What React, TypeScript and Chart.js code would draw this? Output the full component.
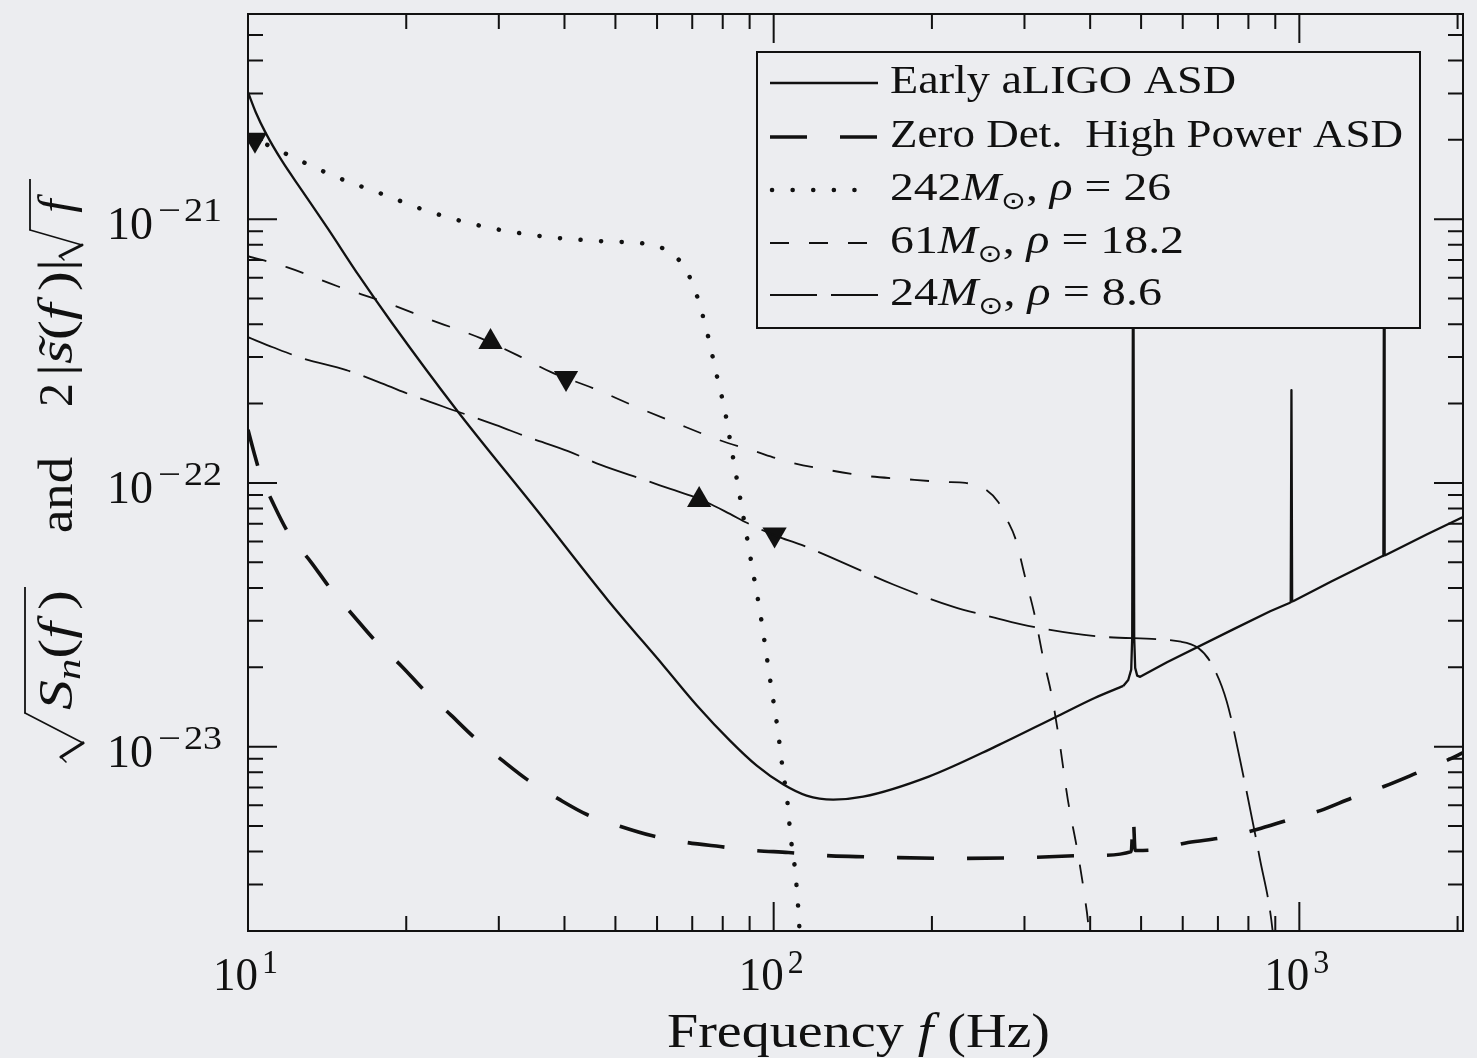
import React, { useEffect, useRef } from 'react';
import { Chart, registerables } from 'chart.js';

Chart.register(...registerables);

const W = 1477;
const H = 1058;
const BG = 'rgb(236,237,240)';
const INK = '#111111';
const SERIF = '"Liberation Serif", "Times New Roman", "DejaVu Serif", serif';
const SANS = '"DejaVu Sans", "Noto Sans", sans-serif';

// ---------------- data ----------------
const asdFreq = [10, 10.35, 10.81, 11.59, 12.65, 14.17, 16.28, 18.79, 24.94, 35.64, 48.33, 61.95, 71.52, 82.58, 92.87, 104.4, 115.5, 129.8, 148.0, 197.2, 264.0, 342.7, 407.9, 462.4, 472.6, 478.8, 480.9, 483, 485.1, 487.2, 491.5, 498.0, 560, 750, 880, 955, 963, 966, 969, 975, 1150, 1440, 1445, 1449, 1453, 1460, 1750, 2048];
const asdValue = [3.03e-21, 2.54e-21, 2.12e-21, 1.67e-21, 1.29e-21, 9.25e-22, 6.08e-22, 4.04e-22, 1.89e-22, 7.77e-23, 3.6e-23, 2.01e-23, 1.43e-23, 1.054e-23, 8.47e-24, 7.18e-24, 6.52e-24, 6.3e-24, 6.46e-24, 7.7e-24, 1.0e-23, 1.29e-23, 1.53e-23, 1.7e-23, 1.79e-23, 1.96e-23, 2.6e-23, 2.0e-21, 2.6e-23, 1.99e-23, 1.86e-23, 1.84e-23, 2.09e-23, 2.79e-23, 3.26e-23, 3.5e-23, 3.53e-23, 2.25e-22, 3.55e-23, 3.57e-23, 4.23e-23, 5.28e-23, 5.29e-23, 1.0e-21, 5.31e-23, 5.33e-23, 6.39e-23, 7.43e-23];
// above this frequency the ASD is drawn with straight segments (narrow lines)
const asdLineRegionStart = 462.4;

const zdhpFreq = [10, 10.26, 10.54, 11.25, 12.0, 13.21, 14.41, 15.93, 17.53, 19.64, 21.61, 24.3, 26.86, 30.34, 33.98, 38.89, 44.12, 51.17, 58.55, 68.48, 79.07, 92.06, 106.7, 124.3, 143.5, 168.6, 226.6, 304.8, 407.9, 479, 483, 487, 534.2, 614.2, 715.1, 829.5, 957.4, 1096, 1265, 1448, 1679, 1921, 2048];
const zdhpValue = [1.59e-22, 1.31e-22, 1.09e-22, 8.11e-23, 6.35e-23, 4.98e-23, 3.93e-23, 3.11e-23, 2.5e-23, 2.01e-23, 1.64e-23, 1.32e-23, 1.09e-23, 8.93e-24, 7.5e-24, 6.35e-24, 5.53e-24, 4.98e-24, 4.6e-24, 4.33e-24, 4.18e-24, 4.04e-24, 3.97e-24, 3.87e-24, 3.83e-24, 3.8e-24, 3.77e-24, 3.8e-24, 3.87e-24, 4.0e-24, 5.43e-24, 4.04e-24, 4.07e-24, 4.33e-24, 4.52e-24, 4.85e-24, 5.29e-24, 5.72e-24, 6.41e-24, 7.06e-24, 7.97e-24, 8.93e-24, 9.49e-24];

const m242Freq = [10, 10.91, 12.38, 14.8, 17.92, 22.08, 28.43, 36.27, 47.09, 56.07, 60.89, 65.56, 68.78, 71.2, 74.7, 77.68, 80.79, 83.29, 85.87, 88.53, 91.26, 94.09, 96.58, 99.13, 101.8, 104.0, 106.3, 107.7, 109.6, 111.0, 112.0, 114.0];
const m242Value = [2.04e-21, 1.91e-21, 1.69e-21, 1.44e-21, 1.25e-21, 1.07e-21, 9.33e-22, 8.62e-22, 8.25e-22, 8.11e-22, 7.83e-22, 7.12e-22, 6.19e-22, 5.24e-22, 3.73e-22, 2.63e-22, 1.87e-22, 1.32e-22, 9.33e-23, 6.58e-23, 4.64e-23, 3.3e-23, 2.33e-23, 1.64e-23, 1.16e-23, 8.25e-24, 6.08e-24, 4.56e-24, 3.54e-24, 2.68e-24, 2.01e-24, 1.1e-24];

const m61Freq = [10, 11.85, 14.8, 18.39, 22.37, 27.69, 33.1, 37.72, 45.29, 53.9, 65.01, 78.72, 90.86, 107.2, 127.0, 149.9, 176.8, 210.5, 231.7, 250.6, 267.4, 278.1, 288.0, 300.8, 314.2, 325.3, 338.3, 350.3, 362.7, 378.8, 390.5, 397.4, 404.4];
const m61Value = [7.24e-22, 6.58e-22, 5.57e-22, 4.81e-22, 4.14e-22, 3.54e-22, 3.0e-22, 2.63e-22, 2.29e-22, 1.97e-22, 1.69e-22, 1.455e-22, 1.33e-22, 1.2e-22, 1.12e-22, 1.063e-22, 1.035e-22, 1.009e-22, 1.0e-22, 9.57e-23, 8.47e-23, 7.24e-23, 6.19e-23, 4.4e-23, 3.11e-23, 2.19e-23, 1.55e-23, 1.02e-23, 6.3e-24, 3.97e-24, 2.7e-24, 2.03e-24, 1.1e-24];

const m24Freq = [10, 11.15, 12.7, 15.39, 17.92, 20.87, 24.94, 29.56, 34.13, 40.62, 46.89, 56.81, 63.6, 72.15, 82.58, 88.92, 100.9, 113.0, 134.4, 169.3, 219.9, 264.0, 304.8, 422.4, 595.6, 641.5, 678.8, 727.8, 783.8, 840.3, 888.9, 912.4];
const m24Value = [3.57e-22, 3.27e-22, 2.97e-22, 2.68e-22, 2.39e-22, 2.12e-22, 1.87e-22, 1.66e-22, 1.49e-22, 1.32e-22, 1.17e-22, 1.026e-22, 9.49e-23, 8.7e-23, 7.63e-23, 7.06e-23, 6.3e-23, 5.82e-23, 5.02e-23, 4.11e-23, 3.39e-23, 3.08e-23, 2.87e-23, 2.61e-23, 2.5e-23, 2.37e-23, 2.08e-23, 1.48e-23, 7.63e-24, 3.8e-24, 2.03e-24, 1.1e-24];

const upMarkerFreq = [28.93, 72.15];
const upMarkerValue = [3.42e-22, 8.62e-23];
const downMarkerFreq = [10.31, 40.27, 100.4];
const downMarkerValue = [2.0e-21, 2.5e-22, 6.38e-23];

const seriesLabels = ['Early aLIGO ASD', 'Zero Det.  High Power ASD', '242M\u2299, \u03C1 = 26', '61M\u2299, \u03C1 = 18.2', '24M\u2299, \u03C1 = 8.6'];
const massLabels = ['242', '61', '24'];
const rhoLabels = ['26', '18.2', '8.6'];

const xMin = 10;
const xMax = 2048;
const yMin = 2e-24;
const yMax = 6e-21;
const xMajorTicks = [10, 100, 1000];
const xTickExp = ['1', '2', '3'];
const yMajorTicks = [1e-23, 1e-22, 1e-21];
const yTickExp = ['23', '22', '21'];

// ---------------- styles / layout ----------------
type Style = { width: number; dash: number[]; cap: CanvasLineCap };
const styles: Style[] = [
  { width: 2.3, dash: [], cap: 'butt' },
  { width: 3.6, dash: [37, 33], cap: 'butt' },
  { width: 4.5, dash: [0.1, 20.5], cap: 'round' },
  { width: 1.8, dash: [19, 20], cap: 'butt' },
  { width: 1.8, dash: [47, 14], cap: 'butt' },
];

const AREA = { left: 248, right: 1470, top: 12, bottom: 931 };
const LEG = {
  left: 757, top: 52, right: 1420, bottom: 328,
  x0: 770, x1: 878, textX: 890,
  baselines: [93, 147, 200, 253, 305],
  textRight: [1236, 1403, 1171, 1184, 1162],
};

type Run = { t: string; size: number; it?: boolean; dy?: number; sans?: boolean; accent?: string };
const fontOf = (r: Run) => `${r.it ? 'italic ' : ''}${r.size}px ${r.sans ? SANS : SERIF}`;

function measureRuns(ctx: CanvasRenderingContext2D, runs: Run[]) {
  let w = 0;
  for (const r of runs) {
    ctx.font = fontOf(r);
    w += ctx.measureText(r.t).width;
  }
  return w;
}

// draws runs stretched horizontally so that they span x0..x1 (or centred at natural width)
function drawRunsFit(ctx: CanvasRenderingContext2D, runs: Run[], x0: number, x1: number, baseline: number, natural = false) {
  const nat = measureRuns(ctx, runs);
  let sx = (x1 - x0) / nat;
  let cx = x0;
  if (natural) {
    sx = 1;
    cx = (x0 + x1) / 2 - nat / 2;
  }
  for (const r of runs) {
    ctx.font = fontOf(r);
    const w = ctx.measureText(r.t).width;
    ctx.save();
    ctx.translate(cx, baseline + (r.dy || 0));
    ctx.scale(sx, 1);
    ctx.fillText(r.t, 0, 0);
    if (r.accent) {
      const aw = ctx.measureText(r.accent).width;
      ctx.fillText(r.accent, (w - aw) / 2 + w * 0.12, 0);
    }
    ctx.restore();
    cx += w * sx;
  }
}

function legendRuns(i: number): Run[] {
  const S = 40;
  if (i < 2) return [{ t: seriesLabels[i], size: S }];
  const k = i - 2;
  return [
    { t: massLabels[k], size: S },
    { t: 'M', size: S, it: true },
    { t: '\u2299', size: 25, dy: 9, sans: true },
    { t: ', ', size: S },
    { t: '\u03C1', size: S, it: true },
    { t: ' = ' + rhoLabels[k], size: S },
  ];
}

function seg(ctx: CanvasRenderingContext2D, pts: number[][], w: number) {
  ctx.lineWidth = w;
  ctx.beginPath();
  ctx.moveTo(pts[0][0], pts[0][1]);
  for (let i = 1; i < pts.length; i++) ctx.lineTo(pts[i][0], pts[i][1]);
  ctx.stroke();
}

function drawYLabel(ctx: CanvasRenderingContext2D) {
  // radical signs (screen coordinates)
  ctx.save();
  ctx.strokeStyle = INK;
  ctx.lineCap = 'round';
  seg(ctx, [[66, 762], [61, 757]], 1.6);
  seg(ctx, [[61, 757], [83, 743]], 3.2);
  seg(ctx, [[83, 743], [25, 713]], 1.6);
  ctx.lineCap = 'butt';
  seg(ctx, [[25, 713.5], [25, 587]], 1.8);
  ctx.lineCap = 'round';
  seg(ctx, [[64, 260], [60, 256]], 1.5);
  seg(ctx, [[60, 256], [82, 245]], 3.0);
  seg(ctx, [[82, 245], [30, 230]], 1.5);
  ctx.lineCap = 'butt';
  seg(ctx, [[30, 230.5], [30, 179]], 1.8);
  ctx.restore();

  // text, rotated (reads bottom to top); baseline at screen x = 72
  ctx.save();
  ctx.translate(72, 0);
  ctx.rotate(-Math.PI / 2);
  const S = 48;
  drawRunsFit(ctx, [
    { t: 'S', size: S, it: true },
    { t: 'n', size: 34, it: true, dy: 8 },
    { t: '(', size: S },
    { t: 'f', size: S, it: true },
    { t: '\u2009)', size: S },
  ], -710, -590, 0);
  drawRunsFit(ctx, [{ t: 'and', size: S }], -533, -457, 0);
  drawRunsFit(ctx, [{ t: '2', size: S }], -407, -383, 0, true);
  drawRunsFit(ctx, [
    { t: '|', size: S },
    { t: 's', size: S, it: true, accent: '\u02DC' },
    { t: '(', size: S },
    { t: 'f', size: S, it: true },
    { t: '\u2009)', size: S },
    { t: '|', size: S },
  ], -376, -259, 0);
  drawRunsFit(ctx, [{ t: 'f', size: S, it: true }], -224, -188, 0, true);
  ctx.restore();
}

const decor = {
  id: 'decor',
  beforeDraw(chart: any) {
    const ctx = chart.ctx as CanvasRenderingContext2D;
    ctx.save();
    ctx.fillStyle = BG;
    ctx.fillRect(0, 0, chart.width, chart.height);
    ctx.restore();
  },
  afterDatasetsDraw(chart: any) {
    const ctx = chart.ctx as CanvasRenderingContext2D;
    const a = chart.chartArea;
    const xs = chart.scales.x;
    const ys = chart.scales.y;
    ctx.save();
    ctx.textBaseline = 'alphabetic';
    ctx.textAlign = 'left';

    // ---- legend ----
    ctx.fillStyle = BG;
    ctx.fillRect(LEG.left, LEG.top, LEG.right - LEG.left, LEG.bottom - LEG.top);
    ctx.strokeStyle = INK;
    ctx.lineWidth = 2;
    ctx.setLineDash([]);
    ctx.strokeRect(LEG.left, LEG.top, LEG.right - LEG.left, LEG.bottom - LEG.top);
    for (let i = 0; i < 5; i++) {
      const st = styles[i];
      const yb = LEG.baselines[i];
      const ly = yb - 10;
      ctx.save();
      ctx.strokeStyle = INK;
      ctx.lineWidth = st.width;
      ctx.setLineDash(st.dash);
      ctx.lineCap = st.cap;
      ctx.beginPath();
      const x0 = i === 2 ? LEG.x0 + 2 : LEG.x0;
      const x1 = i === 2 ? LEG.x0 + 90 : LEG.x1;
      ctx.moveTo(x0, ly);
      ctx.lineTo(x1, ly);
      ctx.stroke();
      ctx.restore();
      ctx.fillStyle = INK;
      drawRunsFit(ctx, legendRuns(i), LEG.textX, LEG.textRight[i], yb);
    }

    // ---- frame ----
    ctx.strokeStyle = INK;
    ctx.lineWidth = 2;
    ctx.setLineDash([]);
    ctx.strokeRect(a.left, a.top, a.right - a.left, a.bottom - a.top);

    // ---- ticks (inward, all four sides) ----
    ctx.lineWidth = 2;
    ctx.beginPath();
    for (let d = 10; d <= xMax; d *= 10) {
      for (let m = 1; m <= 9; m++) {
        const v = m * d;
        if (v < xMin * 0.999 || v > xMax * 1.0001) continue;
        const px = xs.getPixelForValue(v);
        const len = m === 1 ? 29 : 15;
        ctx.moveTo(px, a.bottom);
        ctx.lineTo(px, a.bottom - len);
        ctx.moveTo(px, a.top);
        ctx.lineTo(px, a.top + len);
      }
    }
    for (let e = -24; e <= -21; e++) {
      for (let m = 1; m <= 9; m++) {
        const v = m * Math.pow(10, e);
        if (v < yMin * 0.999 || v > yMax * 1.0001) continue;
        const py = ys.getPixelForValue(v);
        const len = m === 1 ? 29 : 15;
        ctx.moveTo(a.left, py);
        ctx.lineTo(a.left + len, py);
        ctx.moveTo(a.right, py);
        ctx.lineTo(a.right - len, py);
      }
    }
    ctx.stroke();

    // ---- tick labels ----
    ctx.fillStyle = INK;
    xMajorTicks.forEach((v, i) => {
      const X = xs.getPixelForValue(v);
      drawRunsFit(ctx, [{ t: '10', size: 46 }], X - 35, X + 10, 990);
      drawRunsFit(ctx, [{ t: xTickExp[i], size: 33 }], X + 14, X + 30, 973);
    });
    yMajorTicks.forEach((v, i) => {
      const Y = ys.getPixelForValue(v);
      drawRunsFit(ctx, [{ t: '10', size: 46 }], 107, 153, Y + 20);
      drawRunsFit(ctx, [{ t: '\u2212', size: 33 }], 158, 181, Y + 2);
      drawRunsFit(ctx, [{ t: yTickExp[i], size: 33 }], 184, 222, Y + 2);
    });

    // ---- axis titles ----
    drawRunsFit(ctx, [
      { t: 'Frequency ', size: 48 },
      { t: 'f', size: 48, it: true },
      { t: ' (Hz)', size: 48 },
    ], 667, 1050, 1047);
    drawYLabel(ctx);

    ctx.restore();
  },
};

function lineDs(label: string, xs: number[], ys: number[], st: Style, smooth = true) {
  return {
    label,
    data: xs.map((x, i) => ({ x, y: ys[i] })),
    borderColor: INK,
    backgroundColor: INK,
    borderWidth: st.width,
    borderDash: st.dash,
    borderCapStyle: st.cap,
    borderJoinStyle: 'round',
    pointRadius: 0,
    pointHoverRadius: 0,
    fill: false,
    tension: 0,
    cubicInterpolationMode: smooth ? 'monotone' : 'default',
    clip: 0,
  };
}

function markerDs(label: string, xs: number[], ys: number[], rotation: number) {
  return {
    label,
    data: xs.map((x, i) => ({ x, y: ys[i] })),
    showLine: false,
    pointStyle: 'triangle',
    pointRadius: 14,
    pointHoverRadius: 14,
    pointRotation: rotation,
    pointBackgroundColor: INK,
    pointBorderColor: INK,
    pointBorderWidth: 0,
    borderColor: INK,
    backgroundColor: INK,
    clip: 0,
  };
}

export default function App() {
  const ref = useRef<HTMLCanvasElement | null>(null);

  useEffect(() => {
    const canvas = ref.current;
    if (!canvas) return;
    const k = asdFreq.indexOf(asdLineRegionStart);
    const chart = new Chart(canvas, {
      type: 'line',
      data: {
        datasets: [
          lineDs(seriesLabels[0], asdFreq.slice(0, k + 1), asdValue.slice(0, k + 1), styles[0], true),
          lineDs(seriesLabels[0] + ' (lines)', asdFreq.slice(k), asdValue.slice(k), styles[0], false),
          lineDs(seriesLabels[1], zdhpFreq, zdhpValue, styles[1]),
          lineDs(seriesLabels[2], m242Freq, m242Value, styles[2]),
          lineDs(seriesLabels[3], m61Freq, m61Value, styles[3]),
          lineDs(seriesLabels[4], m24Freq, m24Value, styles[4]),
          markerDs('up markers', upMarkerFreq, upMarkerValue, 0),
          markerDs('down markers', downMarkerFreq, downMarkerValue, 180),
        ] as any,
      },
      options: {
        animation: false,
        responsive: false,
        maintainAspectRatio: false,
        devicePixelRatio: 1,
        events: [],
        layout: {
          padding: { left: AREA.left, right: W - AREA.right, top: AREA.top, bottom: H - AREA.bottom },
        },
        scales: {
          x: { type: 'logarithmic', min: xMin, max: xMax, display: false },
          y: { type: 'logarithmic', min: yMin, max: yMax, display: false },
        },
        plugins: {
          legend: { display: false },
          tooltip: { enabled: false },
        },
      } as any,
      plugins: [decor as any],
    });
    return () => chart.destroy();
  }, []);

  return (
    <div style={{ position: 'fixed', left: 0, top: 0, width: W, height: H, background: BG, overflow: 'hidden' }}>
      <canvas ref={ref} width={W} height={H} style={{ display: 'block', width: W, height: H }} />
    </div>
  );
}
